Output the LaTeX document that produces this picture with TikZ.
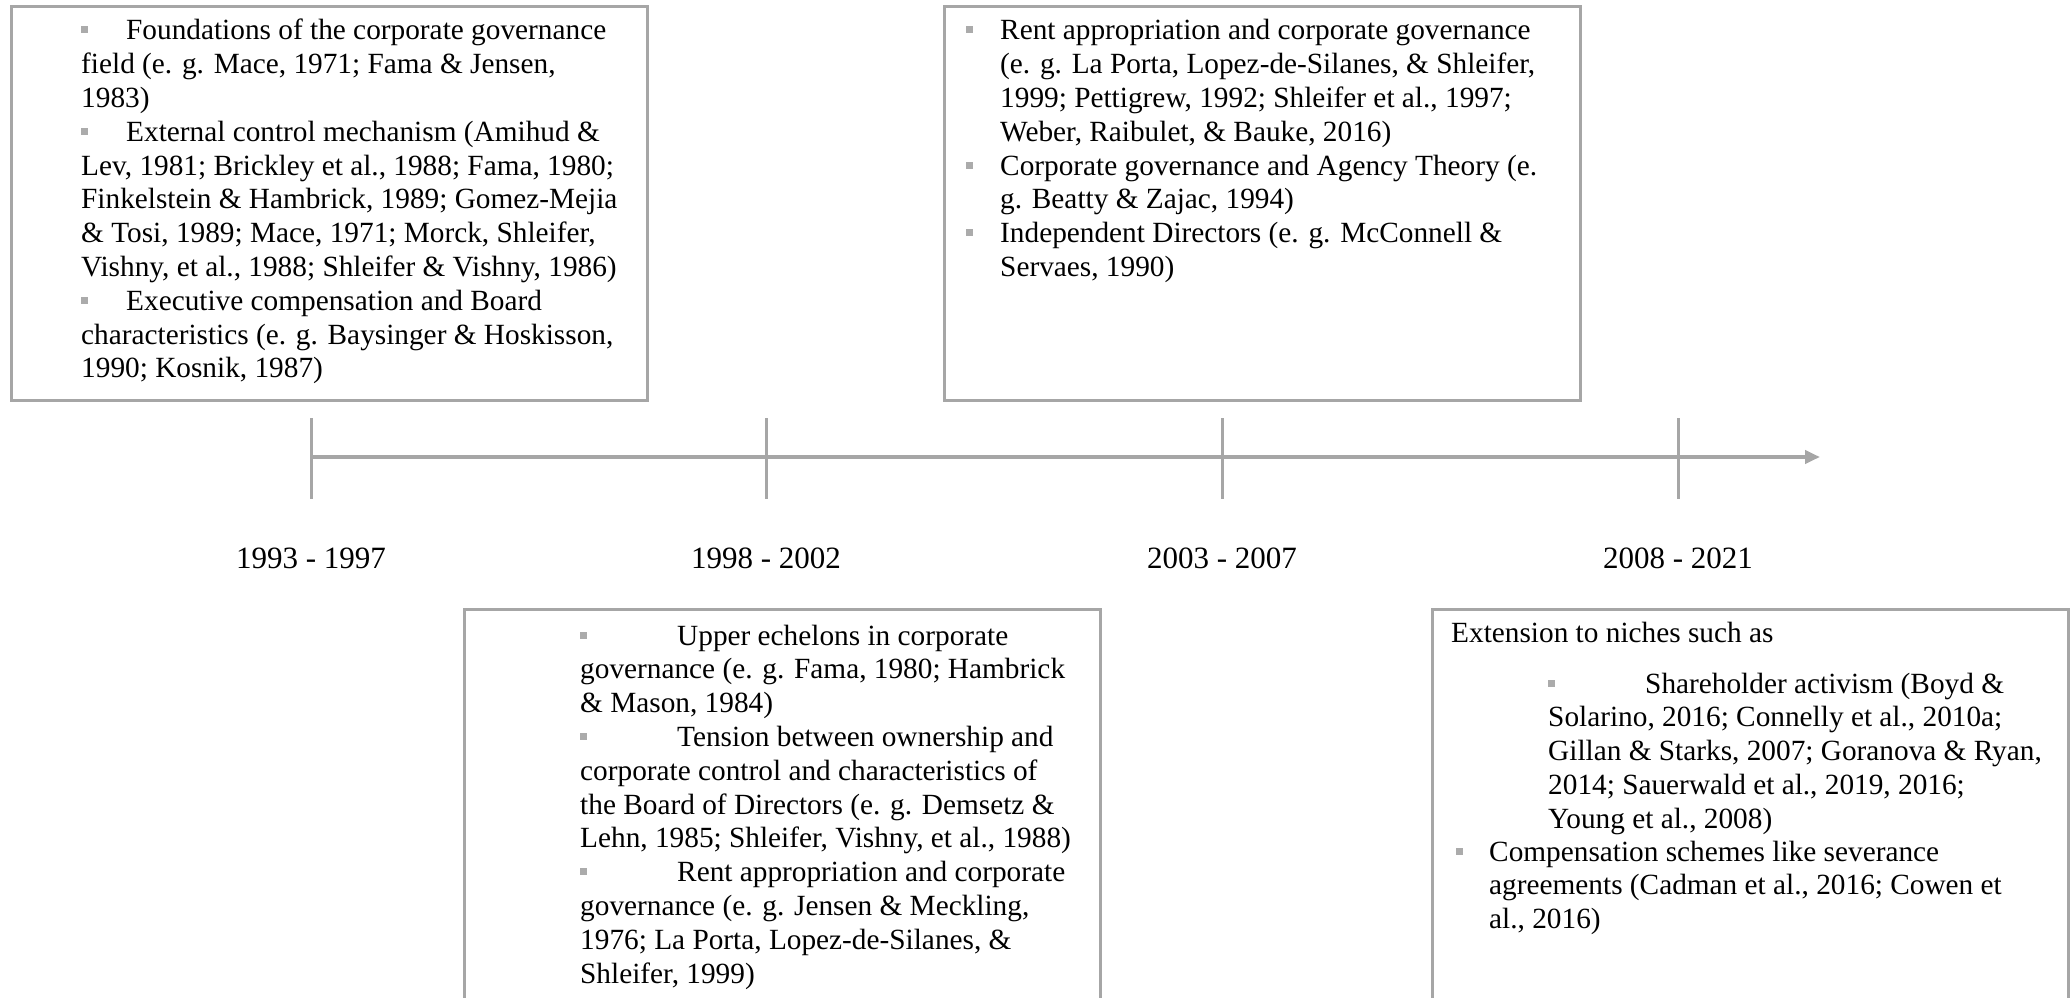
\documentclass[tikz,border=0pt]{standalone}
\usepackage{fontspec}
\setmainfont{Liberation Serif}
\usetikzlibrary{arrows.meta}
\definecolor{linegray}{HTML}{A6A6A6}
\definecolor{bulgray}{HTML}{ABABAB}
\newcommand{\sqb}{\textcolor{bulgray}{\rule[6.5pt]{7pt}{7pt}}}
\newcommand{\hb}[1]{\leavevmode\llap{\sqb\hspace{#1}}}
\tikzset{
  boxst/.style={draw=linegray, line width=3pt, rectangle, inner sep=0pt, anchor=north west},
  txt/.style={anchor=base west, inner sep=0pt, font=\fontsize{29.3}{33.8}\selectfont},
  lab/.style={anchor=base, inner sep=0pt, font=\fontsize{31}{36}\selectfont},
  tl/.style={draw=linegray, line width=4pt},
  tick/.style={draw=linegray, line width=3pt},
}
\newcommand{\pb}[1]{\parbox[t]{700pt}{\raggedright #1}}
\begin{document}
\begin{tikzpicture}[x=1pt,y=-1pt]
\path[use as bounding box, clip] (0,0) rectangle (2072,998);
\fill[white] (0,0) rectangle (2072,998);
% boxes
\node[boxst, minimum width=636pt, minimum height=394pt] (b1) at (10,5) {};
\node[boxst, minimum width=636pt, minimum height=394pt] (b2) at (943,5) {};
\node[boxst, minimum width=636pt, minimum height=450pt] (b3) at (463,608) {};
\node[boxst, minimum width=636pt, minimum height=450pt] (b4) at (1431,608) {};
% box texts
\node[txt] (t1) at (81,40) {\pb{\sqb\hspace{38pt}Foundations of the corporate governance\\
field (e. g. Mace, 1971; Fama \& Jensen,\\
1983)\\
\sqb\hspace{38pt}External control mechanism (Amihud \&\\
Lev, 1981; Brickley et al., 1988; Fama, 1980;\\
Finkelstein \& Hambrick, 1989; Gomez-Mejia\\
\& Tosi, 1989; Mace, 1971; Morck, Shleifer,\\
Vishny, et al., 1988; Shleifer \& Vishny, 1986)\\
\sqb\hspace{38pt}Executive compensation and Board\\
characteristics (e. g. Baysinger \& Hoskisson,\\
1990; Kosnik, 1987)}};
\node[txt] (t2) at (1000,40) {\pb{\hb{27pt}Rent appropriation and corporate governance\\
(e. g. La Porta, Lopez-de-Silanes, \& Shleifer,\\
1999; Pettigrew, 1992; Shleifer et al., 1997;\\
Weber, Raibulet, \& Bauke, 2016)\\
\hb{27pt}Corporate governance and Agency Theory (e.\\
g. Beatty \& Zajac, 1994)\\
\hb{27pt}Independent Directors (e. g. McConnell \&\\
Servaes, 1990)}};
\node[txt] (t3) at (580,645) {\pb{\sqb\hspace{90pt}Upper echelons in corporate\\
governance (e. g. Fama, 1980; Hambrick\\
\& Mason, 1984)\\
\sqb\hspace{90pt}Tension between ownership and\\
corporate control and characteristics of\\
the Board of Directors (e. g. Demsetz \&\\
Lehn, 1985; Shleifer, Vishny, et al., 1988)\\
\sqb\hspace{90pt}Rent appropriation and corporate\\
governance (e. g. Jensen \& Meckling,\\
1976; La Porta, Lopez-de-Silanes, \&\\
Shleifer, 1999)}};
\node[txt] (t4a) at (1451,642) {Extension to niches such as};
\node[txt] (t4b) at (1548,693) {\pb{\sqb\hspace{90pt}Shareholder activism (Boyd \&\\
Solarino, 2016; Connelly et al., 2010a;\\
Gillan \& Starks, 2007; Goranova \& Ryan,\\
2014; Sauerwald et al., 2019, 2016;\\
Young et al., 2008)}};
\node[txt] (t4c) at (1489,861) {\pb{\hb{26pt}Compensation schemes like severance\\
agreements (Cadman et al., 2016; Cowen et\\
al., 2016)}};
% timeline
\coordinate (s) at (311,457);
\coordinate (e) at (1820,457);
\draw[tl, -{Triangle[length=15pt,width=13pt]}] (s) -- (e);
\foreach \i/\x in {1/311,2/766,3/1222,4/1678}{
  \coordinate (k\i a) at (\x,418);
  \coordinate (k\i b) at (\x,499);
  \draw[tick] (k\i a) -- (k\i b);
}
\node[lab] (l1) at (311,568) {1993 - 1997};
\node[lab] (l2) at (766,568) {1998 - 2002};
\node[lab] (l3) at (1222,568) {2003 - 2007};
\node[lab] (l4) at (1678,568) {2008 - 2021};
\end{tikzpicture}
\end{document}
